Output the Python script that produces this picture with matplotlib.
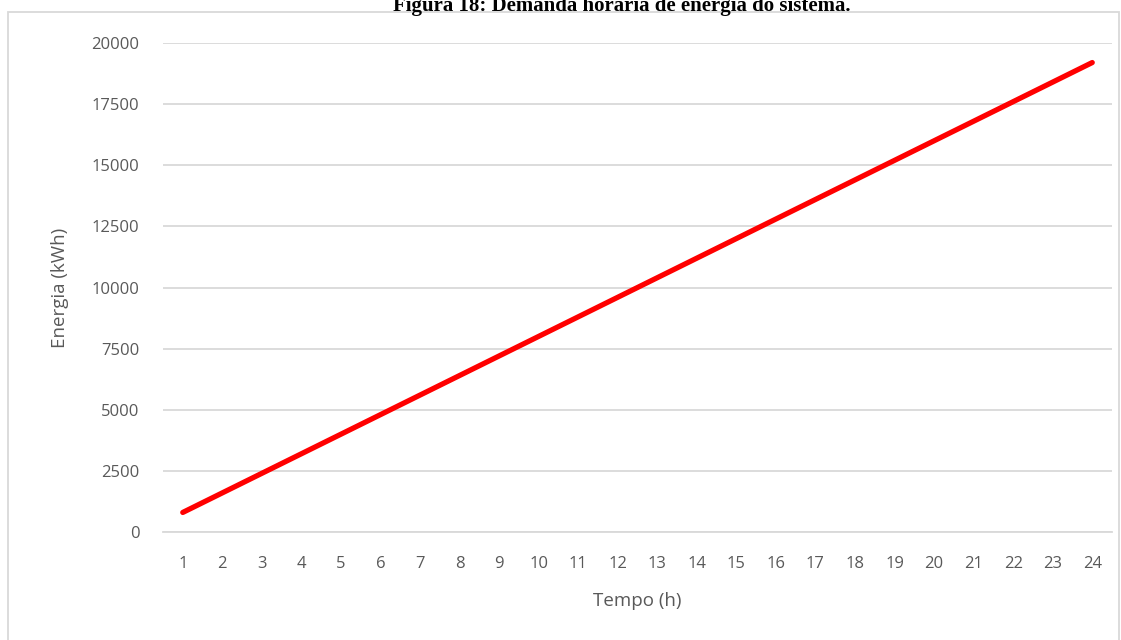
import matplotlib
matplotlib.use("Agg")
import matplotlib.pyplot as plt
from matplotlib.patches import Rectangle

hours = list(range(1, 25))
energia = [800, 1600, 2400, 3200, 4000, 4800, 5600, 6400, 7200, 8000, 8800, 9600,
           10400, 11200, 12000, 12800, 13600, 14400, 15200, 16000, 16800, 17600, 18400, 19200]
yticks = [0, 2500, 5000, 7500, 10000, 12500, 15000, 17500, 20000]

W, H = 1121, 640
fig = plt.figure(figsize=(W / 100, H / 100), dpi=100)
ax = fig.add_axes([163 / W, 1 - 532 / H, (1112 - 163) / W, (532 - 43) / H])

txt = "#595959"
font = "Open Sans"

ax.plot(hours, energia, color="#ff0000", linewidth=3.8, solid_capstyle="round", zorder=3)
ax.set_xlim(0.5, 24.5)
ax.set_ylim(0, 20000)
ax.set_xticks(hours)
ax.set_xticklabels([str(h) for h in hours], fontsize=12, color=txt, family=font)
ax.set_yticks(yticks)
ax.set_yticklabels([str(v) for v in yticks], fontsize=12, color=txt, family=font)
ax.tick_params(axis="both", length=0)
ax.tick_params(axis="x", pad=17)
ax.tick_params(axis="y", pad=17)
ax.grid(axis="y", color="#d9d9d9", linewidth=1.3)
ax.set_axisbelow(True)
for s in ["top", "right", "left"]:
    ax.spines[s].set_visible(False)
ax.spines["bottom"].set_color("#d9d9d9")
ax.spines["bottom"].set_linewidth(1.3)

ax.set_xlabel("Tempo (h)", fontsize=13.5, color=txt, family=font, labelpad=15)
ax.set_ylabel("Energia (kWh)", fontsize=13.5, color=txt, family=font, labelpad=16)

# outer chart frame
fig.patches.append(Rectangle((8 / W, -0.01), (1119 - 8) / W, 1 - 12 / H + 0.01,
                             transform=fig.transFigure, fill=False,
                             edgecolor="#d9d9d9", linewidth=1.3))

fig.text(622 / W, 1 - 11 / H, "Figura 18: Demanda horária de energia do sistema.",
         ha="center", va="baseline", fontsize=15, fontweight="bold",
         family="Liberation Serif", color="black")

fig.savefig("out.png", dpi=100)
